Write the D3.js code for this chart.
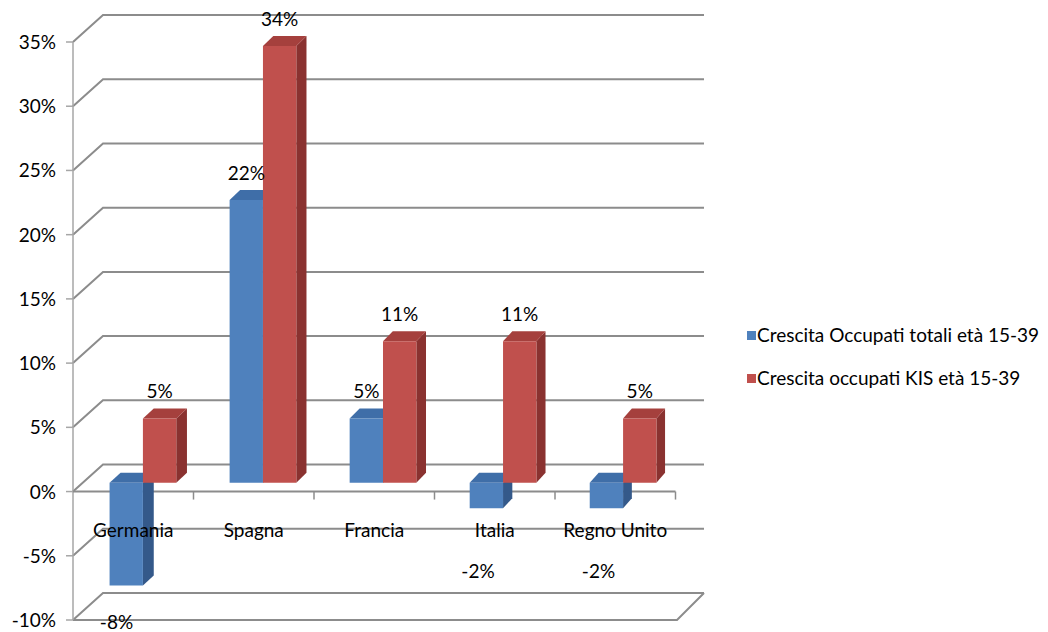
<!DOCTYPE html>
<html>
<head>
<meta charset="utf-8">
<script src="https://cdn.jsdelivr.net/npm/d3@7"></script>
<style>
  body { margin: 0; background: #ffffff; }
  svg text { font-family: Lato, "Liberation Sans", sans-serif; font-size: 19px; fill: #000; }
</style>
</head>
<body>
<svg id="chart" width="1048" height="632"></svg>
<script>
// Employment growth, ages 15-39: total vs knowledge-intensive services (KIS)
const categories = ["Germania", "Spagna", "Francia", "Italia", "Regno Unito"];
const seriesNames = ["Crescita Occupati totali età 15-39", "Crescita occupati KIS età 15-39"];
const totaliValues = [-8, 22, 5, -2, -2];
const kisValues = [5, 34, 11, 11, 5];
const tickValues = [-10, -5, 0, 5, 10, 15, 20, 25, 30, 35];

// Face colours per series: front, top, side
const palette = [
  { front: "#4F81BD", top: "#3F6EA8", side: "#34598A" },
  { front: "#C0504D", top: "#A5403D", side: "#8A3230" }
];

const svg = d3.select("#chart");

// Front plane of the 3-D box
const y = d3.scaleLinear().domain([-10, 35]).range([620, 42]);
const x = d3.scaleBand().domain(categories).range([73, 675.5]);
const xs = d3.scaleBand().domain(seriesNames).range([0, x.bandwidth()])
  .paddingInner(0).paddingOuter(0.8);

// Depth of the box: vertical lift and a horizontal shift that narrows to the right
const depthY = 27;
const depthX = d3.scaleLinear().domain([73, 677]).range([30, 23]);
const backRight = 704;

// project a front-plane point (xf, value) pushed back by z (0 = front, 1 = back wall)
function P(xf, v, z) {
  return [xf + z * depthX(xf), y(v) - z * depthY];
}
const poly = pts => "M" + pts.map(p => p.join(",")).join("L") + "Z";

const gridColor = "#8C8C8C";
const xLeft = x.range()[0];
const yMin = tickValues[0];

// side-wall and back-wall gridlines
svg.append("g").selectAll("path").data(tickValues).join("path")
  .attr("d", t => {
    const a = P(xLeft, t, 0), b = P(xLeft, t, 1);
    return `M${a}L${b}L${backRight},${b[1]}`;
  })
  .attr("fill", "none").attr("stroke", gridColor).attr("stroke-width", 2);

// floor front and right edges
{
  const a = P(xLeft, yMin, 0);
  const r = [677, y(yMin)];
  svg.append("path")
    .attr("d", `M${a}L${r}L${backRight},${y(yMin) - depthY}`)
    .attr("fill", "none").attr("stroke", gridColor).attr("stroke-width", 2);
}

// value axis
const ya = svg.append("g");
ya.append("line").attr("x1", xLeft).attr("x2", xLeft)
  .attr("y1", y(35)).attr("y2", y(yMin))
  .attr("stroke", "#A6A6A6").attr("stroke-width", 1.5);
ya.selectAll("line.tk").data(tickValues).join("line").attr("class", "tk")
  .attr("x1", xLeft - 7).attr("x2", xLeft).attr("y1", d => y(d)).attr("y2", d => y(d))
  .attr("stroke", "#A6A6A6").attr("stroke-width", 1.5);
ya.selectAll("text").data(tickValues).join("text")
  .attr("x", 56).attr("y", d => y(d) + 7).attr("text-anchor", "end")
  .text(d => d + "%");

// category axis along the zero line
const xa = svg.append("g");
xa.append("line").attr("x1", xLeft).attr("x2", x.range()[1])
  .attr("y1", y(0)).attr("y2", y(0)).attr("stroke", gridColor).attr("stroke-width", 2);
const bounds = categories.slice(1).map(c => x(c)).concat([x.range()[1]]);
xa.selectAll("line.tk").data(bounds).join("line").attr("class", "tk")
  .attr("x1", d => d).attr("x2", d => d).attr("y1", y(0)).attr("y2", y(0) + 8)
  .attr("stroke", gridColor).attr("stroke-width", 1.5);

// bars
const zf = 0.33, zb = 0.70;
const seriesValues = [totaliValues, kisValues];
const bars = [];
categories.forEach((c, i) => {
  seriesNames.forEach((s, k) => {
    const v = seriesValues[k][i];
    const x0 = x(c) + xs(s), x1 = x0 + xs.bandwidth();
    bars.push({ c, s, k, v, x0, x1 });
  });
});

const bg = svg.append("g");
bars.forEach(b => {
  const top = Math.max(b.v, 0), bot = Math.min(b.v, 0);
  const col = palette[b.k];
  const g = bg.append("g");
  g.append("path").attr("fill", col.side)
    .attr("d", poly([P(b.x1, top, zf), P(b.x1, top, zb), P(b.x1, bot, zb), P(b.x1, bot, zf)]));
  g.append("path").attr("fill", col.top)
    .attr("d", poly([P(b.x0, top, zf), P(b.x1, top, zf), P(b.x1, top, zb), P(b.x0, top, zb)]));
  g.append("path").attr("fill", col.front)
    .attr("d", poly([P(b.x0, top, zf), P(b.x1, top, zf), P(b.x1, bot, zf), P(b.x0, bot, zf)]));
});

// category labels
const catBaseline = 537;
svg.append("g").selectAll("text").data(categories).join("text")
  .attr("x", d => x(d) + x.bandwidth() / 2).attr("y", catBaseline)
  .attr("text-anchor", "middle").text(d => d);

// value labels
svg.append("g").selectAll("text").data(bars).join("text")
  .attr("text-anchor", "middle")
  .attr("x", b => b.v >= 0
    ? (P(b.x0, b.v, zf)[0] + P(b.x1, b.v, zf)[0]) / 2
    : (b.x0 + b.x1) / 2)
  .attr("y", b => {
    if (b.v >= 0) return P(b.x0, b.v, zb)[1] - 10;
    let ly = P(b.x0, b.v, zf)[1] + 44;
    if (ly < catBaseline + 30) ly = catBaseline + 41; // keep clear of the category names
    return ly;
  })
  .text(b => b.v + "%");

// legend
const lg = svg.append("g").attr("transform", "translate(747,331)");
const li = lg.selectAll("g").data(seriesNames).join("g")
  .attr("transform", (d, i) => `translate(0,${i * 43})`);
li.append("rect").attr("width", 9).attr("height", 9).attr("fill", (d, i) => palette[i].front);
li.append("text").attr("x", 10).attr("y", 11).text(d => d);
</script>
</body>
</html>
